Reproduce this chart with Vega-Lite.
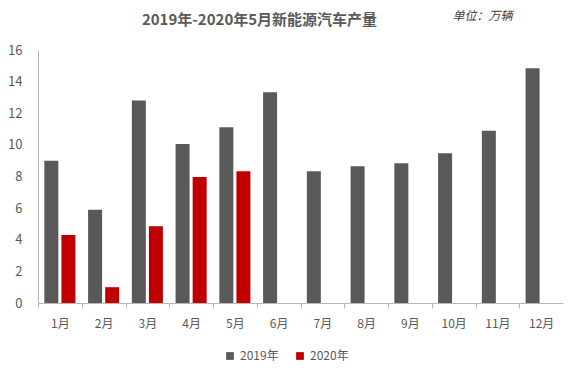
{
  "$schema": "https://vega.github.io/schema/vega-lite/v6.json",
  "width": 525,
  "height": 253,
  "autosize": {"type": "none"},
  "padding": {"left": 38, "top": 50, "right": 16, "bottom": 78},
  "background": "white",
  "title": {
    "text": "2019年-2020年5月新能源汽车产量",
    "anchor": "middle",
    "dx": -41,
    "offset": -19,
    "font": "Noto Sans CJK SC",
    "fontSize": 15,
    "fontWeight": "bold",
    "color": "#595959"
  },
  "data": {
    "values": [
      {"month": "1月", "year": "2019年", "value": 9.0},
      {"month": "1月", "year": "2020年", "value": 4.3},
      {"month": "2月", "year": "2019年", "value": 5.9},
      {"month": "2月", "year": "2020年", "value": 1.0},
      {"month": "3月", "year": "2019年", "value": 12.8},
      {"month": "3月", "year": "2020年", "value": 4.85},
      {"month": "4月", "year": "2019年", "value": 10.05},
      {"month": "4月", "year": "2020年", "value": 7.97},
      {"month": "5月", "year": "2019年", "value": 11.12},
      {"month": "5月", "year": "2020年", "value": 8.33},
      {"month": "6月", "year": "2019年", "value": 13.33},
      {"month": "7月", "year": "2019年", "value": 8.33},
      {"month": "8月", "year": "2019年", "value": 8.65},
      {"month": "9月", "year": "2019年", "value": 8.84},
      {"month": "10月", "year": "2019年", "value": 9.47},
      {"month": "11月", "year": "2019年", "value": 10.89},
      {"month": "12月", "year": "2019年", "value": 14.85}
    ]
  },
  "mark": {"type": "bar"},
  "encoding": {
    "x": {
      "field": "month",
      "type": "nominal",
      "sort": ["1月","2月","3月","4月","5月","6月","7月","8月","9月","10月","11月","12月"],
      "scale": {"paddingInner": 0.29, "paddingOuter": 0.145},
      "axis": {
        "title": null,
        "labelAngle": 0,
        "labelFont": "Noto Sans CJK SC",
        "labelFontSize": 12,
        "labelColor": "#595959",
        "labelPadding": 10,
        "labelOffset": 21.875,
        "domainColor": "#b8b8b8",
        "tickColor": "#b8b8b8",
        "tickSize": 5,
        "tickOffset": -21.875,
        "grid": false
      }
    },
    "xOffset": {
      "field": "year",
      "type": "nominal",
      "scale": {"domain": ["2019年", "2020年"], "paddingInner": 0.18, "paddingOuter": 0}
    },
    "y": {
      "field": "value",
      "type": "quantitative",
      "scale": {"domain": [0, 16], "nice": false},
      "axis": {
        "values": [0, 2, 4, 6, 8, 10, 12, 14, 16],
        "grid": false,
        "ticks": false,
        "labelPadding": 16,
        "labelFont": "Noto Sans CJK SC",
        "labelFontSize": 13,
        "labelColor": "#595959",
        "domainColor": "#b8b8b8",
        "title": "单位：万辆",
        "titleAngle": 0,
        "titleAlign": "left",
        "titleBaseline": "middle",
        "titleX": 414,
        "titleY": -35,
        "titleFont": "Noto Sans CJK SC",
        "titleFontSize": 12,
        "titleFontStyle": "italic",
        "titleFontWeight": "normal",
        "titleColor": "#404040"
      }
    },
    "color": {
      "field": "year",
      "type": "nominal",
      "scale": {"domain": ["2019年", "2020年"], "range": ["#595959", "#C00000"]},
      "legend": {
        "title": null,
        "orient": "none",
        "direction": "horizontal",
        "legendX": 186,
        "legendY": 300,
        "symbolType": "square",
        "symbolSize": 60,
        "symbolStrokeWidth": 0,
        "labelFont": "Noto Sans CJK SC",
        "labelFontSize": 12,
        "labelColor": "#595959",
        "columnPadding": 15
      }
    }
  },
  "config": {"view": {"stroke": null}}
}
